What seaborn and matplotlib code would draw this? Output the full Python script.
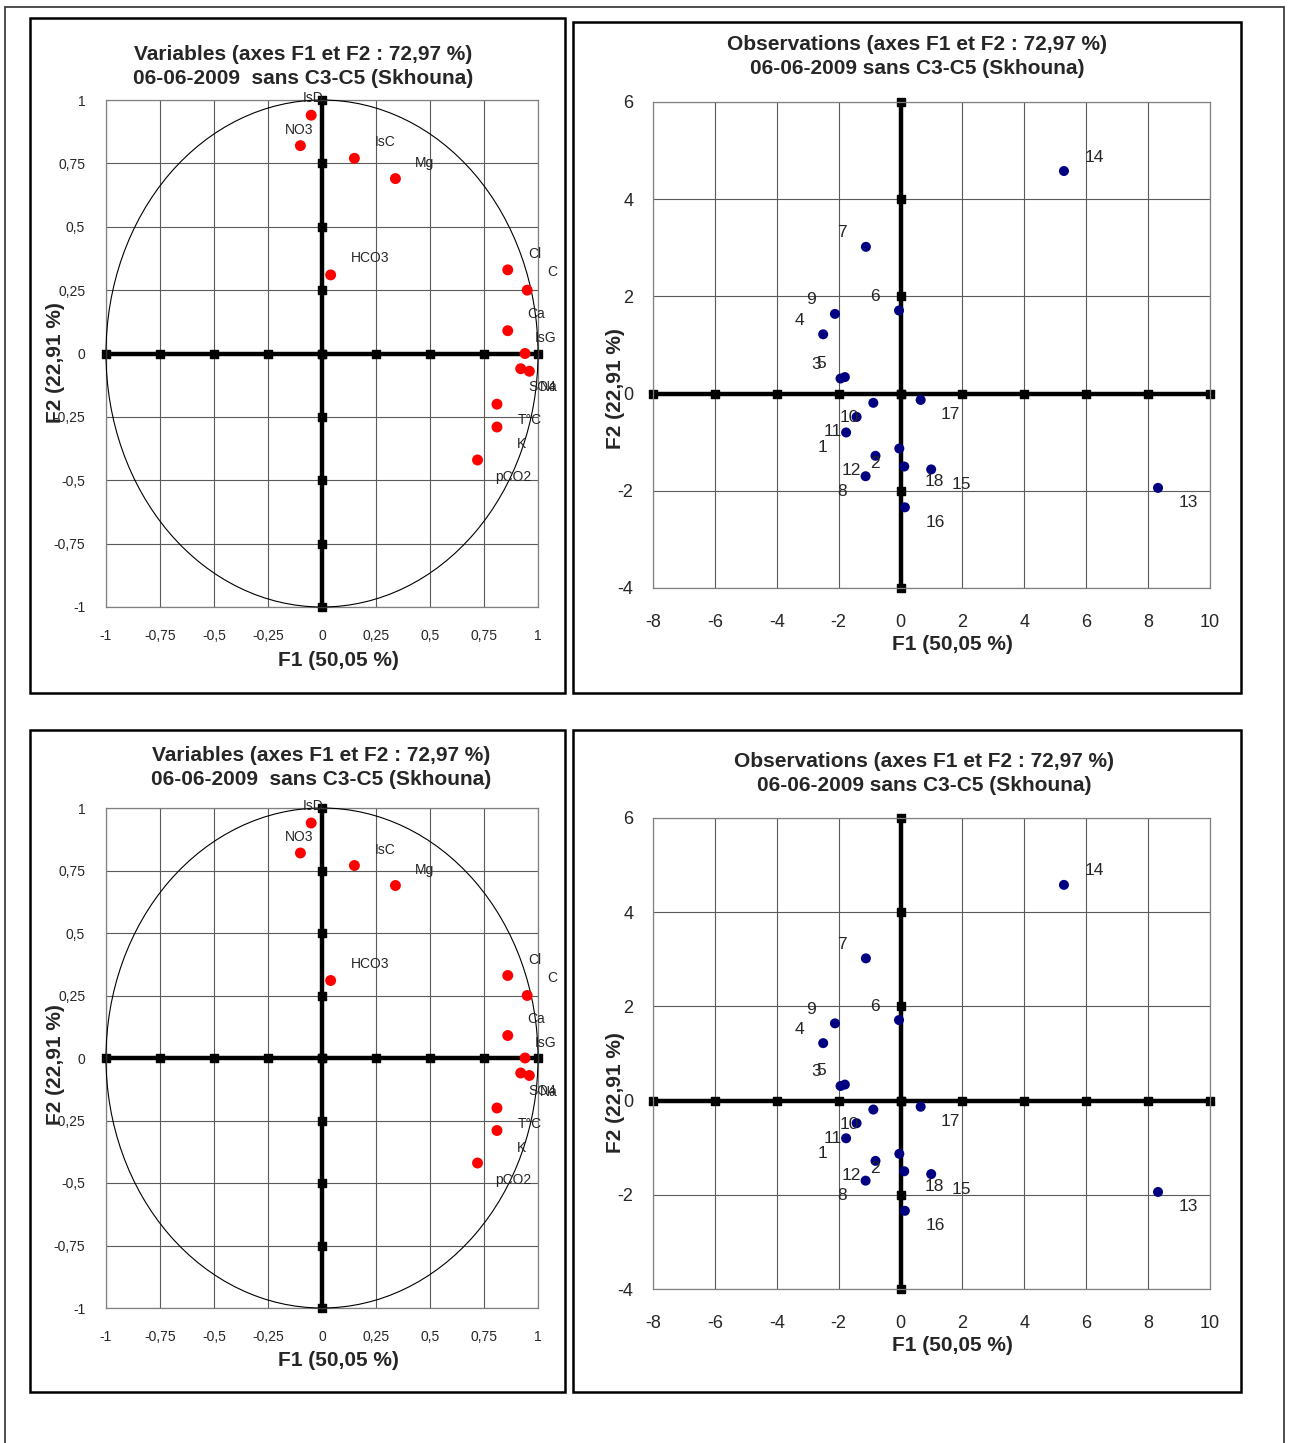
import matplotlib
matplotlib.use("Agg")
import matplotlib.pyplot as plt
from matplotlib.patches import Circle, Rectangle
from matplotlib.lines import Line2D
from matplotlib.ticker import FixedLocator, FuncFormatter
import seaborn as sns
import numpy as np
import pandas as pd

# PCA results (F1/F2)
var_names = ["IsD", "NO3", "IsC", "Mg", "HCO3", "Cl", "C", "Ca", "IsG",
             "SO4", "Na", "T°C", "K", "pCO2"]
var_f1 = [-0.05, -0.10, 0.15, 0.34, 0.04, 0.86, 0.95, 0.86, 0.94,
          0.92, 0.96, 0.81, 0.81, 0.72]
var_f2 = [0.94, 0.82, 0.77, 0.69, 0.31, 0.33, 0.25, 0.09, 0.00,
          -0.06, -0.07, -0.20, -0.29, -0.42]

obs_ids = [str(i) for i in range(1, 19)]
obs_f1 = [-1.76, -0.04, -1.94, -2.50, -1.80, -0.05, -1.12, -1.13, -2.12,
          -0.88, -1.42, -0.81, 8.32, 5.28, 0.99, 0.14, 0.65, 0.12]
obs_f2 = [-0.80, -1.13, 0.31, 1.22, 0.34, 1.71, 3.02, -1.70, 1.64,
          -0.19, -0.48, -1.28, -1.94, 4.58, -1.56, -2.34, -0.13, -1.50]

var_ticks = [-1, -0.75, -0.5, -0.25, 0, 0.25, 0.5, 0.75, 1]
obs_xticks = [-8, -6, -4, -2, 0, 2, 4, 6, 8, 10]
obs_yticks = [-4, -2, 0, 2, 4, 6]

title_var = "Variables (axes F1 et F2 : 72,97 %)\n06-06-2009  sans C3-C5 (Skhouna)"
title_obs = "Observations (axes F1 et F2 : 72,97 %)\n06-06-2009 sans C3-C5 (Skhouna)"
xlab = "F1 (50,05 %)"
ylab = "F2 (22,91 %)"

# label offsets in pixels (dx right, dy down), as placed by the original software
var_label_offset = {"IsD": (2, -17), "NO3": (-1, -16), "IsC": (31, -16), "Mg": (29, -16),
                    "HCO3": (39, -17), "Cl": (27, -16), "C": (25, -18), "Ca": (28, -17),
                    "IsG": (21, -15), "SO4": (21, 18), "Na": (19, 16), "T°C": (33, 16),
                    "K": (25, 17), "pCO2": (36, 17)}

df_var = pd.DataFrame({"name": var_names, "F1": var_f1, "F2": var_f2})
df_obs = pd.DataFrame({"id": obs_ids, "F1": obs_f1, "F2": obs_f2})

sns.set_style("white")
plt.rcParams["font.family"] = ["Liberation Sans", "DejaVu Sans"]
plt.rcParams["axes.unicode_minus"] = False

W, H = 1290, 1443
fig = plt.figure(figsize=(W / 100, H / 100), dpi=100)


def px_rect(x0, y0, x1, y1):
    return [x0 / W, 1 - y1 / H, (x1 - x0) / W, (y1 - y0) / H]


def comma(v, pos):
    return f"{v:g}".replace(".", ",")


def base_axes(rect, xticks, yticks, tick_size, pad_x, pad_y):
    ax = fig.add_axes(px_rect(*rect))
    ax.set_xlim(xticks[0], xticks[-1])
    ax.set_ylim(yticks[0], yticks[-1])
    ax.xaxis.set_major_locator(FixedLocator(xticks))
    ax.yaxis.set_major_locator(FixedLocator(yticks))
    ax.xaxis.set_major_formatter(FuncFormatter(comma))
    ax.yaxis.set_major_formatter(FuncFormatter(comma))
    ax.grid(True, color="#5a5a5a", lw=0.8)
    ax.set_axisbelow(True)
    for sp in ax.spines.values():
        sp.set_color("#808080")
        sp.set_linewidth(0.9)
    ax.tick_params(axis="both", length=0, labelsize=tick_size)
    ax.tick_params(axis="x", pad=pad_x)
    ax.tick_params(axis="y", pad=pad_y)
    # thick axes through the origin with square tick marks
    ax.axhline(0, color="black", lw=3.2, zorder=2)
    ax.axvline(0, color="black", lw=3.2, zorder=2)
    ax.scatter(xticks, np.zeros(len(xticks)), marker="s", s=30, color="black",
               zorder=2, clip_on=False)
    ax.scatter(np.zeros(len(yticks)), yticks, marker="s", s=30, color="black",
               zorder=2, clip_on=False)
    return ax


def set_labels(ax, title, title_xy, xlab_xy, ylab_xy):
    ax.text(title_xy[0], title_xy[1], title, transform=ax.transAxes, ha="center",
            va="center", fontsize=15, fontweight="bold", linespacing=1.3)
    ax.set_xlabel(xlab, fontsize=15, fontweight="bold")
    ax.set_ylabel(ylab, fontsize=15, fontweight="bold")
    ax.xaxis.set_label_coords(*xlab_xy)
    ax.yaxis.set_label_coords(*ylab_xy)
    ax.xaxis.label.set_va("center")
    ax.yaxis.label.set_va("center")


def variables_panel(rect, title_xy, xlab_xy, ylab_xy):
    ax = base_axes(rect, var_ticks, var_ticks, 10, 16, 15)
    ax.add_patch(Circle((0, 0), 1, fill=False, ec="black", lw=0.8, zorder=3, clip_on=False))
    sns.scatterplot(data=df_var, x="F1", y="F2", ax=ax, color="#ff0000", s=62,
                    edgecolor="none", zorder=4, legend=False)
    for name, x, y in zip(df_var["name"], df_var["F1"], df_var["F2"]):
        dx, dy = var_label_offset[name]
        ax.annotate(name, (x, y), xytext=(dx, -dy), textcoords="offset pixels",
                    ha="center", va="center", fontsize=10, zorder=5)
    set_labels(ax, title_var, title_xy, xlab_xy, ylab_xy)
    return ax


def observations_panel(rect, title_xy, xlab_xy, ylab_xy):
    ax = base_axes(rect, obs_xticks, obs_yticks, 13, 19, 14)
    sns.scatterplot(data=df_obs, x="F1", y="F2", ax=ax, color="#000080", s=52,
                    edgecolor="none", zorder=4, legend=False)
    for lab, x, y in zip(df_obs["id"], df_obs["F1"], df_obs["F2"]):
        dx = 30 if x > 0 else -24
        dy = 14 if y > 0 else -15
        ax.annotate(lab, (x, y), xytext=(dx, dy), textcoords="offset pixels",
                    ha="center", va="center", fontsize=12.5, zorder=5)
    set_labels(ax, title_obs, title_xy, xlab_xy, ylab_xy)
    return ax


variables_panel((106, 100, 538, 607), (0.456, 1.066), (0.537, -0.106), (-0.116, 0.482))
observations_panel((653, 102, 1210, 588), (0.474, 1.094), (0.537, -0.117), (-0.068, 0.41))
variables_panel((106, 808, 538, 1308), (0.498, 1.081), (0.537, -0.106), (-0.116, 0.486))
observations_panel((653, 818, 1210, 1289), (0.487, 1.095), (0.537, -0.119), (-0.068, 0.418))

# panel frames
for x0, y0, x1, y1 in [(30, 18, 565, 693), (573, 22, 1241, 693),
                       (30, 730, 565, 1392), (573, 730, 1241, 1392)]:
    fig.add_artist(Rectangle((x0 / W, 1 - y1 / H), (x1 - x0) / W, (y1 - y0) / H,
                             transform=fig.transFigure, fill=False, ec="black", lw=1.8))

# page border
for xs, ys in [([5, 5], [7, H]), ([5, 1284], [7, 7]), ([1284, 1284], [7, H])]:
    fig.add_artist(Line2D([x / W for x in xs], [1 - y / H for y in ys],
                          transform=fig.transFigure, color="#404040", lw=1.3))

fig.savefig("out.png", dpi=100)
